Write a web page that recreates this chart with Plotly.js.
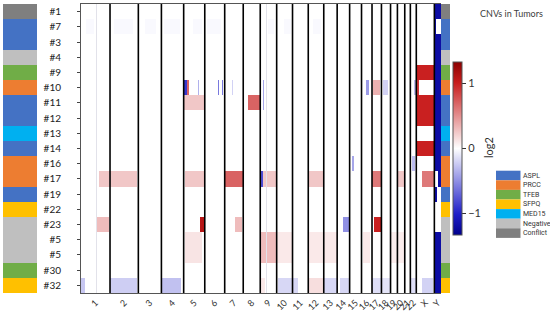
<!DOCTYPE html>
<html>
<head>
<meta charset="utf-8">
<script src="https://cdn.plot.ly/plotly-3.0.1.min.js"></script>
<style>
  html, body { margin: 0; padding: 0; background: #fff; }
  #cnv-plot { width: 550px; height: 313px; }
</style>
</head>
<body>
<div id="cnv-plot"></div>
<script>
// Tumor samples, top to bottom
const samples = ['#1', '#7', '#3', '#4', '#9', '#10', '#11', '#12', '#13', '#14',
                 '#16', '#17', '#19', '#22', '#23', '#5', '#5', '#30', '#32'];
const fusion = ['Conflict', 'ASPL', 'ASPL', 'Negative', 'TFEB', 'PRCC', 'ASPL', 'ASPL', 'MED15', 'ASPL',
                'PRCC', 'PRCC', 'ASPL', 'SFPQ', 'Negative', 'Negative', 'Negative', 'TFEB', 'SFPQ'];

// Fusion partner legend
const legendNames = ['ASPL', 'PRCC', 'TFEB', 'SFPQ', 'MED15', 'Negative', 'Conflict'];
const legendColors = ['#4472c4', '#ed7d31', '#70ad47', '#ffc000', '#00b0f0', '#bfbfbf', '#7f7f7f'];

// Chromosomes and their sizes (Mb)
const chroms = ['1', '2', '3', '4', '5', '6', '7', '8', '9', '10', '11', '12',
                '13', '14', '15', '16', '17', '18', '19', '20', '21', '22', 'X', 'Y'];
const chromMb = [249, 243, 198, 191, 181, 171, 159, 146, 141, 136, 135, 133,
                 115, 107, 102, 90, 81, 78, 59, 63, 48, 51, 155, 57];

// Regions without data (drawn grey)
const gaps = [['1', 125, 139], ['9', 47, 56]];

// CNV segments: [row, chromosome, start Mb, end Mb, log2 ratio]
const segments = [
    // #1
    [0, 'Y', 0, 57, -1.2],
    // #7 (faint noise)
    [1, '1', 40, 110, -0.025], [1, '2', 30, 200, -0.025], [1, '3', 60, 150, -0.025],
    [1, '4', 20, 160, -0.025], [1, '5', 80, 160, -0.025], [1, '6', 20, 140, -0.025],
    [1, '9', 70, 120, -0.025], [1, '10', 60, 120, -0.025], [1, '12', 40, 110, -0.025],
    [1, 'Y', 0, 10, -1.2],
    // #3, #4, #9
    [2, 'Y', 0, 57, -1.2],
    [3, 'Y', 0, 57, -1.2],
    [4, 'X', 0, 155, 1.0], [4, 'Y', 0, 57, -1.2],
    // #10
    [5, '5', 0, 32, -0.9], [5, '5', 32, 46, 0.7], [5, '5', 124, 130, -0.35],
    [5, '6', 117, 126, -0.6], [5, '6', 146, 160, -0.6], [5, '7', 66, 70, -0.2],
    [5, '9', 20, 30, -0.4], [5, '16', 40, 65, -0.45], [5, '17', 12, 70, 0.35],
    [5, '18', 15, 57, -0.2], [5, '22', 27, 51, -0.3],
    [5, 'X', 0, 20, 0.9], [5, 'Y', 0, 57, -1.2],
    // #11
    [6, '5', 0, 181, 0.25], [6, '8', 44, 146, 0.7], [6, '9', 21, 33, -0.4],
    [6, 'X', 0, 155, 1.0], [6, 'Y', 0, 57, -1.2],
    // #12, #13, #14
    [7, 'X', 0, 155, 1.0], [7, 'Y', 0, 57, -1.2],
    [8, 'Y', 0, 57, -1.2],
    [9, 'X', 0, 155, 1.0], [9, 'Y', 0, 57, -1.2],
    // #16
    [10, '15', 19, 41, -0.4], [10, '22', 13, 41, -0.3], [10, 'Y', 0, 57, -1.2],
    // #17
    [11, '1', 157, 249, 0.25], [11, '2', 0, 230, 0.25], [11, '5', 12, 181, 0.25],
    [11, '7', 0, 159, 0.7], [11, '9', 0, 20, -0.8], [11, '9', 20, 141, 0.25],
    [11, '12', 0, 133, 0.25], [11, '17', 0, 81, 0.6], [11, '20', 0, 63, 0.25],
    [11, 'X', 50, 155, 0.6], [11, 'Y', 35, 57, -1.2],
    // #19
    [12, 'Y', 0, 20, -1.2],
    // #23
    [14, '1', 140, 243, 0.3], [14, '5', 141, 175, 1.1], [14, '7', 88, 146, 0.3],
    [14, '14', 54, 107, -0.5], [14, '17', 20, 81, 1.0],
    // #5 (two runs)
    [15, '5', 12, 155, 0.12], [15, '9', 0, 141, 0.3], [15, '10', 0, 136, 0.1],
    [15, '12', 0, 133, 0.1], [15, '13', 0, 115, 0.1], [15, '16', 10, 70, 0.1],
    [15, '19', 0, 59, 0.08], [15, '20', 0, 63, 0.08], [15, 'Y', 0, 57, -1.2],
    [16, '5', 12, 155, 0.12], [16, '9', 0, 141, 0.3], [16, '10', 0, 136, 0.1],
    [16, '12', 0, 133, 0.1], [16, '13', 0, 115, 0.1], [16, '16', 10, 70, 0.1],
    [16, '19', 0, 59, 0.08], [16, '20', 0, 63, 0.08], [16, 'Y', 0, 57, -1.2],
    // #30
    [17, 'Y', 0, 57, -1.2],
    // #32
    [18, '1', 0, 35, -0.25], [18, '2', 0, 228, -0.22], [18, '4', 0, 172, -0.28],
    [18, '9', 0, 40, 0.1], [18, '10', 12, 136, -0.18], [18, '11', 0, 48, -0.18],
    [18, '12', 0, 133, 0.15], [18, '13', 0, 115, -0.18], [18, '14', 25, 100, -0.18],
    [18, '17', 0, 81, -0.15], [18, '18', 0, 78, -0.12], [18, '22', 0, 51, -0.15],
    [18, 'X', 50, 145, -0.2], [18, 'Y', 0, 57, -1.2]
];

document.addEventListener('DOMContentLoaded', function() {
    createCnvPlot();
});

function createCnvPlot() {
    // cumulative genome positions
    const cum = [0];
    chromMb.forEach((s, i) => cum.push(cum[i] + s));
    const total = cum[cum.length - 1];
    const gpos = (c, mb) => {
        const i = chroms.indexOf(c);
        return cum[i] + Math.min(mb, chromMb[i]);
    };

    // bin edges from all breakpoints
    let edges = cum.slice();
    gaps.forEach(g => edges.push(gpos(g[0], g[1]), gpos(g[0], g[2])));
    segments.forEach(s => edges.push(gpos(s[1], s[2]), gpos(s[1], s[3])));
    edges = Array.from(new Set(edges.map(v => Math.round(v * 100) / 100))).sort((a, b) => a - b);

    const z = samples.map((_, r) => {
        const row = [];
        for (let k = 0; k < edges.length - 1; k++) {
            const mid = (edges[k] + edges[k + 1]) / 2;
            let val = 0;
            segments.forEach(s => {
                if (s[0] === r && mid > gpos(s[1], s[2]) && mid < gpos(s[1], s[3])) val = s[4];
            });
            gaps.forEach(g => {
                if (mid > gpos(g[0], g[1]) && mid < gpos(g[0], g[2])) val = null;
            });
            row.push(val);
        }
        return row;
    });

    const rows = samples.map((_, i) => i);
    const centers = chroms.map((c, i) => (cum[i] + cum[i + 1]) / 2);

    const heat = {
        type: 'heatmap',
        x: edges,
        y: rows,
        z: z,
        zmin: -1.33,
        zmax: 1.33,
        colorscale: [
            [0, 'rgb(0,0,140)'], [0.12, 'rgb(30,30,200)'], [0.5, 'rgb(255,255,255)'],
            [0.88, 'rgb(200,30,30)'], [1, 'rgb(140,0,0)']
        ],
        colorbar: {
            x: 453 / 550, xanchor: 'left', xpad: 0,
            y: 0.5, yanchor: 'middle', ypad: 0,
            thickness: 9,
            lenmode: 'pixels', len: 173,
            outlinewidth: 1, outlinecolor: '#555',
            ticks: 'outside', ticklen: 4, tickcolor: '#333',
            tickvals: [-1, 0, 1],
            ticktext: ['\u22121', '0', '1'],
            tickfont: {size: 11, color: '#333'}
        },
        hoverinfo: 'skip'
    };

    // fusion colour strips (left and right)
    const stripScale = legendColors.map((c, i) => [i / (legendColors.length - 1), c]);
    const stripZ = fusion.map(f => [legendNames.indexOf(f)]);
    const leftStrip = {
        type: 'heatmap', x: [0], y: rows, z: stripZ, xaxis: 'x2', yaxis: 'y',
        zmin: 0, zmax: legendColors.length - 1, colorscale: stripScale,
        showscale: false, hoverinfo: 'skip'
    };
    const rightStrip = Object.assign({}, leftStrip, {xaxis: 'x3'});

    // chromosome separators
    const shapes = cum.slice(1, chroms.length).map(p => ({
        type: 'line', xref: 'x', yref: 'y',
        x0: p, x1: p, y0: -0.5, y1: samples.length - 0.5,
        line: {color: '#000', width: 1.6}
    }));

    // legend boxes
    const W = 550, H = 313, T = 4, B = 20;
    const px = v => v / W;
    const py = v => (H - B - v) / (H - T - B);
    const boxH = 9.6;
    const annotations = [];
    legendNames.forEach((name, i) => {
        const top = 170.7 + i * boxH;
        shapes.push({
            type: 'rect', xref: 'paper', yref: 'paper',
            x0: px(496), x1: px(520.5), y0: py(top + boxH), y1: py(top),
            fillcolor: legendColors[i], line: {width: 0}
        });
        annotations.push({
            xref: 'paper', yref: 'paper', x: px(521), y: py(top + boxH / 2),
            xanchor: 'left', yanchor: 'middle', showarrow: false,
            text: name, font: {size: 7, color: '#333', family: '"Liberation Sans Narrow", "Roboto", sans-serif'}
        });
    });
    annotations.push({
        xref: 'paper', yref: 'paper', x: px(511), y: py(13),
        xanchor: 'center', yanchor: 'middle', showarrow: false,
        text: 'CNVs in Tumors', font: {size: 9, color: '#404040'}
    });
    annotations.push({
        xref: 'paper', yref: 'paper', x: px(488), y: py(148),
        xanchor: 'center', yanchor: 'middle', showarrow: false, textangle: -90,
        text: 'log2', font: {size: 11, color: '#333'}
    });

    const stripAxis = (lo, hi) => ({
        domain: [lo / W, hi / W], anchor: 'y', range: [-0.5, 0.5],
        showticklabels: false, ticks: '', showgrid: false, zeroline: false, showline: false
    });

    const layout = {
        width: W,
        height: H,
        margin: {t: T, r: 0, b: B, l: 0},
        font: {family: 'Lato, "Liberation Sans", sans-serif', color: '#333'},
        showlegend: false,
        paper_bgcolor: '#fff',
        plot_bgcolor: '#e2e2ea',
        xaxis: {
            domain: [81 / W, 441 / W],
            range: [0, total],
            tickvals: centers,
            ticktext: chroms,
            tickangle: -45,
            tickfont: {size: 9, color: '#333'},
            ticks: '',
            showgrid: false,
            zeroline: false,
            showline: true, linecolor: '#555', linewidth: 1, mirror: true
        },
        xaxis2: stripAxis(3, 37),
        xaxis3: stripAxis(441, 450),
        yaxis: {
            range: [samples.length - 0.5, -0.5],
            tickvals: rows,
            ticktext: samples,
            tickfont: {size: 10, color: '#222'},
            ticks: 'outside', ticklen: 3, tickcolor: '#444',
            ticklabelstandoff: 14,
            showgrid: false,
            zeroline: false,
            showline: true, linecolor: '#555', linewidth: 1
        },
        shapes: shapes,
        annotations: annotations
    };

    Plotly.newPlot('cnv-plot', [heat, leftStrip, rightStrip], layout, {staticPlot: true});
}
</script>
</body>
</html>
